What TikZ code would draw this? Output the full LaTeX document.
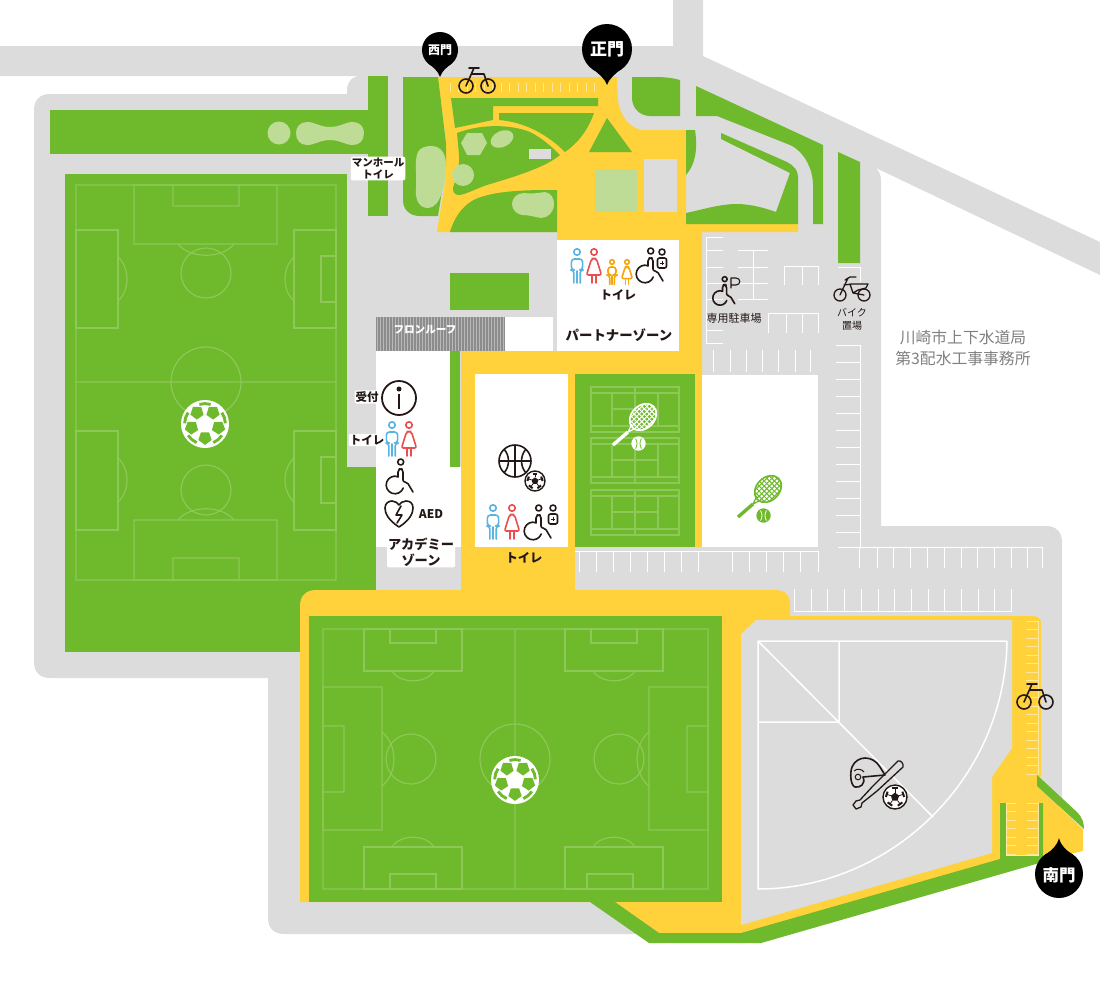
\documentclass[tikz,border=0pt]{standalone}
\usepackage{fontspec}
\setmainfont{Noto Sans CJK JP}
\definecolor{roadgray}{HTML}{DCDCDC}
\definecolor{lawngreen}{HTML}{6FB92C}
\definecolor{paleleaf}{HTML}{BFDC96}
\definecolor{pathyellow}{HTML}{FFD23C}
\definecolor{pitchline}{HTML}{8EC858}
\definecolor{markyellow}{HTML}{FFE9A0}
\definecolor{signblue}{HTML}{58B4E2}
\definecolor{signred}{HTML}{E94F4F}
\definecolor{signorange}{HTML}{F4A60C}
\definecolor{signblack}{HTML}{231815}
\tikzset{
  pitch/.style={draw=pitchline, line width=1.2pt},
  bay/.style={draw=white, line width=1pt},
  tick/.style={draw=markyellow, line width=.8pt},
  sign/.style={line width=1.6pt, line join=round, line cap=round},
  lbl/.style={inner sep=0pt, align=center, text=signblack, font=\fontsize{#1}{#1}\selectfont\bfseries},
  halo/.style={lbl=#1, fill=white, inner sep=1pt, rounded corners=2pt},
  gate/.style={inner sep=0pt, text=white, font=\fontsize{#1}{#1}\selectfont\bfseries},
  man/.pic={
    \draw[sign] (0,0) circle (3.2);
    \draw[sign, rounded corners=3] (-3.2,31) -- (-3.2,18) -- (-5.6,18) -- (-5.6,7) -- (5.6,7) -- (5.6,18) -- (3.2,18) -- (3.2,31);
    \draw[sign] (0,19) -- (0,31);
  },
  woman/.pic={
    \draw[sign] (0,0) circle (3.2);
    \draw[sign, rounded corners=2] (0,6) -- (-2.5,7) -- (-7.5,23) -- (7.5,23) -- (2.5,7) -- cycle;
    \draw[sign] (-2,23) -- (-2,31) (2,23) -- (2,31);
  },
  wheelchair/.pic={
    \draw[sign] (5.7,-23) circle (3);
    \draw[sign, rounded corners=2] (3,-8) -- (3,-15) -- (5.7,-17) -- (8,-15) -- (8,-3) -- (12,-3) -- (18,7);
    \draw[sign] (3,-8.3) arc (-70:-340:8.8);
  },
  carer/.pic={
    \draw[sign] (0,0) circle (3);
    \draw[sign, rounded corners=2] (-4.5,16) -- (-4.5,6) -- (4.5,6) -- (4.5,16) -- cycle;
    \draw[line width=.8pt] (-1.8,11) -- (1.8,11) (0,9.2) -- (0,12.8);
  },
  bicycle/.pic={
    \draw[sign] (-11,0) circle (7) (11,0) circle (7);
    \draw[sign] (-8,-18) -- (2,-18) (-3,-18) -- (-11,0) (-5.5,-12) -- (7,-12) -- (11,0);
  }
}
% ball with patches, for the big pitches
\newcommand{\ballicon}[5]{
  \begin{scope}[shift={(#1,#2)},scale=#3]
    \fill[#4] (0,0) circle (1);
    \foreach \a in {-125,-55,15,90,165}
      \fill[#5,shift={(\a:.58)},rotate=-\a] (0:.29) -- (72:.29) -- (144:.29) -- (216:.29) -- (288:.29) -- cycle;
    \foreach \a in {-90,-18,50,130,198}
      \draw[#5,line width=#3*.12pt] (\a-16:.85) arc (\a-16:\a+16:.85);
  \end{scope}
}
% small ball, in outline
\newcommand{\ballline}[3]{
  \begin{scope}[shift={(#1,#2)},scale=#3]
    \filldraw[fill=white,draw=signblack,line width=1.4pt] (0,0) circle (1);
    \fill[signblack] (-90:.36) -- (-18:.36) -- (54:.36) -- (126:.36) -- (198:.36) -- cycle;
    \foreach \a in {-90,-18,54,126,198} {
      \draw[signblack,line width=.8pt] (\a:.36) -- (\a:.68);
      \draw[signblack,line width=2pt] (\a-18:.76) -- (\a+18:.76);
    }
  \end{scope}
}
\newcommand{\racketicon}[4]{
  \begin{scope}[shift={(#1,#2)}]
    \begin{scope}[rotate=45]
      \begin{scope}
        \clip (0,0) ellipse (15 and 11.5);
        \foreach \s in {-15,-11.4,...,15} \draw[#3,line width=1pt] (\s,-12) -- (\s,12);
        \foreach \s in {-12,-8.4,...,12} \draw[#3,line width=1pt] (-15,\s) -- (15,\s);
      \end{scope}
      \draw[#3,line width=1.6pt] (0,0) ellipse (15 and 11.5);
    \end{scope}
    \draw[#3,line width=1.2pt] (-11,7) -- (-15,15) -- (-7,11);
    \draw[#3,line width=3.4pt] (-15,15) -- (-30,28);
    \fill[#3] (-4.5,26.5) circle (7.2);
    \draw[#4,line width=.8pt] (-7.5,21.5) .. controls (-5.5,24.5) and (-5.5,28.5) .. (-7.5,31.5) (-1.5,21.5) .. controls (-3.5,24.5) and (-3.5,28.5) .. (-1.5,31.5);
  \end{scope}
}
\begin{document}
\begin{tikzpicture}[x=1pt,y=-1pt]
  \useasboundingbox (0,0) rectangle (1100,988);

  % Roads and grounds
  \fill[roadgray] (0,46) -- (673,46) -- (673,0) -- (703,0) -- (703,56) -- (1100,242) -- (1100,275) -- (876,168)
    .. controls (880,172) and (881,176) .. (881,182) -- (881,526) -- (1046,526)
    .. controls (1056,526) and (1062,532) .. (1062,542) -- (1062,800) -- (1036,860) -- (761,943) -- (649,943) -- (640,934) -- (284,934)
    .. controls (274,934) and (268,928) .. (268,918) -- (268,678) -- (50,678)
    .. controls (40,678) and (34,672) .. (34,662) -- (34,110)
    .. controls (34,100) and (40,94) .. (50,94) -- (347,94) -- (347,90)
    .. controls (347,82) and (352,76) .. (361,76) -- (0,76) -- cycle;
  \fill[lawngreen] (65,174) rectangle (347,652);
  \fill[lawngreen] (347,467) rectangle (376,590);

  % Yellow paths
  \fill[pathyellow] (437,77) -- (617,77) -- (618,100) .. controls (619,112) and (628,130) .. (645,130) -- (686,130) -- (686,224) -- (798,224)
    -- (798,232) -- (702,232) -- (702,351) -- (679,351) -- (679,240) -- (557,240) -- (557,232) -- (437,232)
    .. controls (440,210) and (446,185) .. (446,167) -- (446,143) .. controls (444,120) and (440,100) .. (437,77) -- cycle;
  \fill[pathyellow] (461,590) -- (461,351) -- (702,351) -- (702,547) -- (575,547) -- (575,590) -- cycle;
  \fill[pathyellow] (300,902) -- (300,606) .. controls (300,596) and (306,590) .. (316,590) -- (775,590)
    .. controls (785,590) and (790,595) .. (790,605) -- (790,616) -- (1032,616)
    .. controls (1038,616) and (1041,618) .. (1041,624) -- (1041,775) -- (1037,786) -- (1083,829) -- (1083,851) -- (1043,860)
    -- (741,933) -- (659,933) -- (615,902) -- cycle;

  % Park
  \fill[lawngreen] (50,110) rectangle (368,154);
  \fill[lawngreen] (368,76) rectangle (388,216);
  \fill[lawngreen] (403,77) -- (438,77) -- (446,143) -- (446,167) -- (438,216) -- (420,216) .. controls (410,216) and (403,210) .. (403,200) -- cycle;
  \fill[lawngreen] (451,98) -- (598,98) -- (598,106) -- (493,106) -- (493,120) -- (455,128) -- cycle;
  \fill[lawngreen] (499,113) -- (594,113) .. controls (588,130) and (578,143) .. (565,152) .. controls (548,135) and (525,122) .. (499,120) -- cycle;
  \fill[lawngreen] (457,133) .. controls (480,124) and (510,124) .. (530,132) .. controls (542,138) and (552,147) .. (560,155)
    .. controls (545,168) and (510,178) .. (487,185) .. controls (475,189) and (465,195) .. (458,195) .. controls (454,194) and (453,192) .. (453,188)
    .. controls (456,178) and (460,165) .. (459,155) -- cycle;
  \fill[lawngreen] (450,232) .. controls (455,215) and (465,203) .. (478,198) .. controls (500,190) and (530,190) .. (557,190) -- (557,232) -- cycle;
  \fill[lawngreen] (607,118) -- (632,152) -- (589,152) -- cycle;
  \fill[lawngreen] (632,77) -- (655,77) .. controls (665,77) and (673,78) .. (680,80) -- (680,116) -- (650,116) .. controls (640,116) and (632,108) .. (632,98) -- cycle;
  \fill[lawngreen] (686,130) -- (695,130) .. controls (698,150) and (695,165) .. (686,175) -- cycle;
  \fill[lawngreen] (696,86) -- (823,145) -- (823,224) -- (813,224) -- (813,185) .. controls (813,170) and (805,152) .. (790,145) -- (717,116) -- (696,116) -- cycle;
  \fill[lawngreen] (721,133) -- (787,162) .. controls (794,166) and (798,170) .. (798,177) -- (798,224) -- (686,224) -- (686,213)
    .. controls (705,209) and (720,204) .. (737,204) .. controls (750,204) and (765,208) .. (776,212) -- (790,173) -- (721,139) -- cycle;
  \fill[lawngreen] (838,152) -- (860,162) -- (860,263) -- (838,263) -- cycle;
  \fill[lawngreen] (450,273) rectangle (529,310);
  \fill[roadgray] (529,149) rectangle (551,159);
  \fill[roadgray] (644,159) rectangle (677,212);
  \fill[paleleaf] (595,169) rectangle (637,212);
  \fill[paleleaf] (467,133) -- (482,133) -- (487,143) -- (480,155) -- (467,155) -- (461,143) -- cycle;
  \fill[paleleaf,rotate around={25:(502,139)}] (502,139) ellipse (12 and 8);
  \fill[paleleaf] (463,175) circle (11);
  \fill[paleleaf] (431,146) .. controls (442,146) and (446,155) .. (446,165) .. controls (446,185) and (440,208) .. (428,208) .. controls (418,208) and (415,198) .. (416,188) .. controls (417,175) and (414,160) .. (418,152) .. controls (420,148) and (425,146) .. (431,146) -- cycle;
  \fill[paleleaf] (524,193) .. controls (532,194) and (538,193) .. (545,192) .. controls (551,193) and (554,198) .. (554,204) .. controls (554,212) and (548,218) .. (541,218) .. controls (534,217) and (530,215) .. (522,215) .. controls (516,214) and (512,209) .. (512,204) .. controls (512,198) and (517,193) .. (524,193) -- cycle;
  \fill[paleleaf] (279,133) circle (11.5);
  \fill[paleleaf] (307,122) .. controls (315,122) and (320,127) .. (330,127) .. controls (340,127) and (345,122) .. (353,122) .. controls (360,122) and (364,127) .. (364,133) .. controls (364,140) and (360,145) .. (353,145) .. controls (345,145) and (340,140) .. (330,140) .. controls (320,140) and (315,145) .. (307,145) .. controls (300,145) and (296,140) .. (296,133) .. controls (296,127) and (300,122) .. (307,122) -- cycle;

  % Left pitch
  \draw[pitch] (76,185) rectangle (336,580) (76,382) -- (336,382) (206,382) circle (35);
  \draw[pitch] (134,185) rectangle (277,244) (173,185) rectangle (239,206) (206,273) circle (25);
  \draw[pitch] (134,580) rectangle (277,520) (173,580) rectangle (239,558) (206,490) circle (25);
  \draw[pitch] (178,244) .. controls (190,259) and (222,259) .. (234,244) (178,520) .. controls (190,505) and (222,505) .. (234,520);
  \draw[pitch] (76,230) rectangle (118,328) (294,230) rectangle (336,328) (321,256) rectangle (336,302);
  \draw[pitch] (76,431) rectangle (118,530) (294,431) rectangle (336,530) (321,457) rectangle (336,503);
  \draw[pitch] (118,257) .. controls (130,268) and (130,290) .. (118,301) (294,257) .. controls (282,268) and (282,290) .. (294,301);
  \draw[pitch] (118,458) .. controls (130,469) and (130,491) .. (118,502) (294,458) .. controls (282,469) and (282,491) .. (294,502);
  \ballicon{205}{424}{24}{white}{lawngreen}

  % Lower pitch
  \fill[lawngreen] (309,616) rectangle (722,902);
  \draw[pitch] (323,629) rectangle (708,889) (515,629) -- (515,889) (515,759) circle (35);
  \draw[pitch] (364,629) rectangle (462,671) (390,629) rectangle (436,643) (565,629) rectangle (663,671) (591,629) rectangle (637,643);
  \draw[pitch] (364,889) rectangle (462,847) (390,889) rectangle (436,874) (565,889) rectangle (663,847) (587,889) rectangle (633,874);
  \draw[pitch] (392,671) .. controls (400,684) and (426,684) .. (434,671) (593,671) .. controls (601,684) and (627,684) .. (635,671);
  \draw[pitch] (392,847) .. controls (400,834) and (426,834) .. (434,847) (593,847) .. controls (601,834) and (627,834) .. (635,847);
  \draw[pitch] (323,687) rectangle (382,830) (323,726) rectangle (344,792) (411,759) circle (25);
  \draw[pitch] (649,687) rectangle (708,830) (687,726) rectangle (708,792) (619,759) circle (25);
  \draw[pitch] (382,732) .. controls (398,745) and (398,773) .. (382,786) (649,732) .. controls (633,745) and (633,773) .. (649,786);
  \ballicon{515}{780}{24}{white}{lawngreen}

  % South edge
  \fill[lawngreen] (590,902) -- (649,943) -- (761,943) -- (1043,862) -- (1043,803) -- (1038,803) -- (1038,855) -- (1006,855) -- (1006,803) -- (1000,803) -- (1000,859) -- (741,933) -- (659,933) -- (615,902) -- cycle;
  \fill[lawngreen] (1037,775) -- (1078,813) .. controls (1082,818) and (1084,822) .. (1084,829) -- (1037,786) -- cycle;

  % Ball field
  \fill[roadgray] (741,634) -- (756,620) -- (1012,620) -- (1012,748) -- (992,777) -- (992,853) -- (741,925) -- cycle;
  \draw[white,line width=1.5pt] (1007,641) -- (758,641) -- (758,889) (758,722) -- (839,722) -- (839,641) (758,641) -- (933,817);
  \draw[white,line width=1.5pt] (1007,641) .. controls (1005,780) and (890,889) .. (758,889);

  % Buildings
  \fill[white] (557,240) rectangle (679,351);
  \fill[white] (505,317) rectangle (553,351);
  \fill[white] (376,351) rectangle (450,467);
  \fill[white] (376,467) rectangle (461,547);
  \fill[lawngreen] (450,351) rectangle (460,467);
  \fill[white] (475,374) rectangle (568,547);
  \fill[white] (702,375) rectangle (818,547);
  \fill[black!45] (376,317) rectangle (505,351);
  \foreach \x in {377,380,...,504} \draw[black!28,line width=1pt] (\x,317) -- (\x,351);

  % Tennis courts
  \fill[lawngreen] (575,374) rectangle (695,547);
  \foreach \y in {387,438,490} {
    \draw[pitch] (591,\y) rectangle (679,\y+45) (591,\y+6) -- (679,\y+6) (591,\y+39) -- (679,\y+39);
    \draw[pitch] (612,\y+6) rectangle (658,\y+39) (612,\y+22) -- (658,\y+22) (635,\y) -- (635,\y+45);
  }

  % Parking bays
  \draw[bay] (723,237) -- (706,237) -- (706,343) -- (723,343);
  \foreach \y in {250,267,283,299,330} \draw[bay] (706,\y) -- (723,\y);
  \draw[bay] (753,250) -- (753,299);
  \foreach \y in {250,267,283,299} \draw[bay] (738,\y) -- (768,\y);
  \draw[bay] (784,285) -- (784,266) -- (818,266) -- (818,285) (802,266) -- (802,285);
  \draw[bay] (768,333) -- (768,313) -- (818,313) -- (818,333) (786,313) -- (786,333) (802,313) -- (802,333);
  \foreach \x in {713,730,746,762,778,795,810} \draw[bay] (\x,350) -- (\x,372);
  \draw[bay] (838,267) -- (860,267) -- (860,282);
  \draw[bay] (836,345) -- (860,345) -- (860,547);
  \foreach \y in {362,379,396,413,430,447,464,481,498,515,532} \draw[bay] (836,\y) -- (860,\y);
  \draw[bay] (838,547) -- (1042,547);
  \foreach \x in {859,877,893,910,927,944,961,977,994,1011,1027,1042} \draw[bay] (\x,547) -- (\x,568);
  \draw[bay] (575,551) -- (818,551);
  \foreach \x in {579,596,613,630,647,664,681,698,732,749,766,783,800,818} \draw[bay] (\x,551) -- (\x,572);
  \draw[bay] (794,589) -- (794,611) -- (1011,611) -- (1011,589);
  \foreach \x in {811,827.5,844,861,878,894,911,928,944,961,978,994} \draw[bay] (\x,589) -- (\x,611);

  % Cycle bays
  \foreach \x in {450,458.5,...,597} \draw[tick] (\x,83) -- (\x,92);
  \draw[tick] (1038,621) -- (1038,774);
  \foreach \y in {621,629.5,...,774} \draw[tick] (1026,\y) -- (1038,\y);
  \draw[tick] (1006,803) -- (1006,855) -- (1038,855) -- (1038,803);
  \foreach \y in {803,811.5,...,855} \draw[tick] (1006,\y) -- (1016,\y) (1027,\y) -- (1038,\y);

  % Partner zone signs
  \pic[color=signblue] at (577,252) {man};
  \pic[color=signred] at (594,252) {woman};
  \pic[color=signorange,scale=.72] at (612,262) {man};
  \pic[color=signorange,scale=.72] at (627,262) {woman};
  \pic[color=signblack] at (645,274) {wheelchair};
  \pic[color=signblack] at (662,252) {carer};

  % Academy zone signs
  \draw[signblack,line width=1.8pt] (399,398) circle (17);
  \fill[signblack] (399,389) circle (2.5);
  \draw[signblack,line width=1.8pt] (399,394) -- (399,409);
  \pic[color=signblue] at (392,425) {man};
  \pic[color=signred] at (409,425) {woman};
  \pic[color=signblack] at (395,485) {wheelchair};
  \draw[signblack,sign] (399,527) .. controls (388,520) and (385,513) .. (385,508) .. controls (385,503) and (389,501) .. (392,501) .. controls (395,501) and (398,503) .. (399,505) .. controls (400,503) and (403,501) .. (406,501) .. controls (410,501) and (413,503) .. (413,508) .. controls (413,513) and (410,520) .. (399,527) -- cycle;
  \draw[signblack,sign] (401,506) -- (396,515) -- (402,515) -- (397,523);

  % Gym signs
  \draw[signblack,line width=1.6pt] (515,461) circle (16) (499,461) -- (531,461) (515,445) -- (515,477);
  \draw[signblack,line width=1.6pt] (504,449) .. controls (510,456) and (510,466) .. (504,473) (526,449) .. controls (520,456) and (520,466) .. (526,473);
  \ballline{535}{481}{10}
  \pic[color=signblue] at (493,508) {man};
  \pic[color=signred] at (512,508) {woman};
  \pic[color=signblack] at (533,531) {wheelchair};
  \pic[color=signblack] at (553,508) {carer};

  % Tennis signs
  \racketicon{643}{417}{white}{lawngreen}
  \racketicon{768}{489}{lawngreen}{white}

  % Other signs
  \pic[color=signblack] at (477,86) {bicycle};
  \pic[color=signblack] at (1035,702) {bicycle};
  \pic[color=signblack,scale=.82] at (720,298) {wheelchair};
  \draw[signblack,sign,line width=1.1pt] (731,288) -- (731,278) -- (736,278) .. controls (741,278) and (741,285) .. (736,285) -- (731,285);
  \draw[signblack,sign,line width=1.3pt] (840,295) circle (6) (864,295) circle (6);
  \draw[signblack,sign,line width=1.3pt] (845,280) -- (850,277) -- (856,277) (848,278) -- (840,295) (844,285) -- (852,284) -- (868,284) -- (866,288) -- (858,290) -- (853,293) -- (864,295) (850,284) -- (853,293);

  % Helmet and bat
  \filldraw[fill=roadgray,draw=signblack,line width=1.3pt,line join=round] (898,761) .. controls (901,760) and (904,764) .. (903,767) -- (877,791) -- (862,803) -- (861,807) -- (856,809) -- (853,805) -- (856,801) -- (860,800) -- (872,787) -- cycle;
  \filldraw[fill=roadgray,draw=signblack,sign] (885,775) -- (863,777) .. controls (866,784) and (860,788) .. (855,787) .. controls (850,785) and (850,772) .. (852,767) .. controls (857,755) and (873,755) .. (880,767) -- cycle;
  \draw[signblack,line width=1pt] (858,777) circle (2.8) (854,771) .. controls (857,768) and (862,769) .. (864,772);
  \ballline{895}{797}{12}

  % Gates
  \fill[black] (440,50) circle (18);
  \fill[black] (440,77) .. controls (438,71) and (434,68) .. (428,63) -- (452,63) .. controls (446,68) and (442,71) .. (440,77) -- cycle;
  \fill[black] (607,49) circle (25);
  \fill[black] (607,85) .. controls (605,79) and (600,75) .. (593,69) -- (621,69) .. controls (614,75) and (609,79) .. (607,85) -- cycle;
  \fill[black] (1059,874) circle (24);
  \fill[black] (1059,838) .. controls (1057,846) and (1052,850) .. (1045,855) -- (1073,855) .. controls (1066,850) and (1061,846) .. (1059,838) -- cycle;
  \node[gate=12] (westgate) at (440,50) {西門};
  \node[gate=17] (maingate) at (607,49) {正門};
  \node[gate=16.5] (southgate) at (1059,875) {南門};

  % Labels
  \node[lbl=12] (partnertoilet) at (618,295) {トイレ};
  \node[lbl=13.4] (partnerzone) at (619,335) {パートナーゾーン};
  \node[lbl=10.6,text=white] (fronroof) at (425,330) {フロンルーフ};
  \node[halo=10.5] (manhole) at (378,168.5) {マンホール\\[2pt]トイレ};
  \node[halo=11.5] (reception) at (367,397) {受付};
  \node[halo=11.5] (academytoilet) at (367,440) {トイレ};
  \node[lbl=12] (aed) at (431,514) {AED};
  \node[halo=13.2] (academyzone) at (421,552) {アカデミー\\[3pt]ゾーン};
  \node[lbl=12.3] (gymtoilet) at (524,558) {トイレ};
  \node[inner sep=0pt,font=\fontsize{11}{11}\selectfont,text=signblack] (disabledparking) at (734,318) {専用駐車場};
  \node[inner sep=0pt,align=center,font=\fontsize{10}{10}\selectfont,text=signblack] (bikeparking) at (852,319) {バイク\\[3pt]置場};
  \node[inner sep=0pt,align=center,font=\fontsize{15.8}{15.8}\selectfont,text=black!50] (waterworks) at (963,348) {川崎市上下水道局\\[5pt]第3配水工事事務所};
\end{tikzpicture}
\end{document}
